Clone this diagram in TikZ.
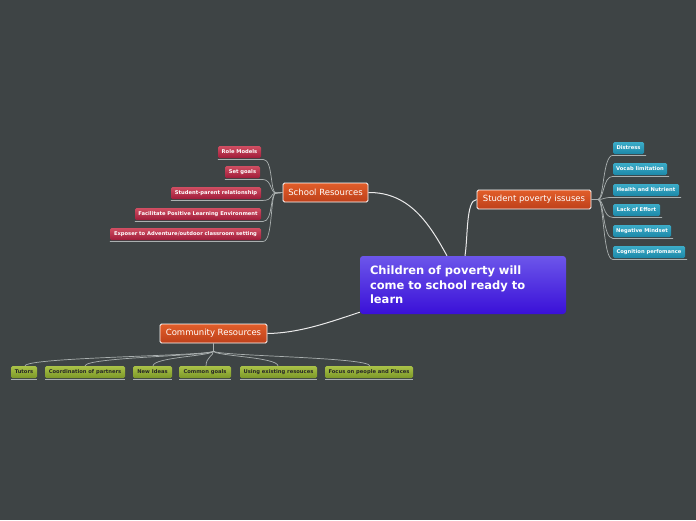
\documentclass[tikz,border=0pt]{standalone}
\usepackage{fontspec}
\setmainfont{DejaVu Sans}
\definecolor{bg}{RGB}{62,68,69}
\definecolor{linec}{RGB}{170,176,176}
\definecolor{mainline}{RGB}{235,235,235}
\definecolor{redtop}{RGB}{208,78,98}
\definecolor{redbot}{RGB}{160,28,58}
\definecolor{bluetop}{RGB}{60,172,200}
\definecolor{bluebot}{RGB}{28,136,168}
\definecolor{greentop}{RGB}{170,194,72}
\definecolor{greenbot}{RGB}{124,152,40}
\definecolor{orangetop}{RGB}{226,94,42}
\definecolor{orangebot}{RGB}{190,64,26}
\definecolor{purptop}{RGB}{108,86,234}
\definecolor{purpbot}{RGB}{58,16,216}
\tikzset{
  subbox/.style={rounded corners=1.5pt, inner sep=0pt, minimum height=12pt,
    text=white, font=\fontsize{5.2}{6}\selectfont\bfseries},
  redbox/.style={subbox, top color=redtop, bottom color=redbot},
  bluebox/.style={subbox, top color=bluetop, bottom color=bluebot},
  greenbox/.style={subbox, top color=greentop, bottom color=greenbot, text=black!85},
  branch/.style={rounded corners=1.5pt, draw=white, line width=0.8pt, inner sep=0pt,
    minimum height=19pt, top color=orangetop, bottom color=orangebot, text=white,
    font=\fontsize{8.5}{10}\selectfont},
  central/.style={rounded corners=3pt, inner xsep=10pt, inner ysep=0pt, minimum height=58pt,
    text width=186pt, align=left, top color=purptop, bottom color=purpbot, text=white,
    font=\fontsize{11.5}{14.5}\selectfont\bfseries},
  conn/.style={draw=linec, line width=0.7pt},
  mconn/.style={draw=mainline, line width=1pt},
}
\begin{document}
\begin{tikzpicture}[x=1pt,y=-1pt]
\fill[bg] (0,0) rectangle (696,520);
\useasboundingbox (0,0) rectangle (696,520);

% main nodes
\node[central] (c) at (463,285) {Children of poverty will\\come to school ready to\\learn};
\node[branch, minimum width=85pt] (school) at (325.5,192.5) {School Resources};
\node[branch, minimum width=114pt] (student) at (534,199.5) {Student poverty issuses};
\node[branch, minimum width=107pt] (comm) at (213.5,333.5) {Community Resources};

% main connectors
\draw[mconn] (school.east) .. controls (410,192) and (430,225) .. ([xshift=-16pt]c.north);
\draw[mconn] ([xshift=2pt]c.north) .. controls (468,236) and (466,200) .. (student.west);
\draw[mconn] (comm.east) .. controls (300,333) and (330,322) .. ([yshift=2pt]c.south west);

% red nodes
\node[redbox, minimum width=43pt] (r1) at (239.5,152) {Role Models};
\node[redbox, minimum width=35pt] (r2) at (242.5,172) {Set goals};
\node[redbox, minimum width=90pt] (r3) at (216,193) {Student-parent relationship};
\node[redbox, minimum width=126pt] (r4) at (198,214) {Facilitate Positive Learning Environment};
\node[redbox, minimum width=151pt] (r5) at (185.5,234) {Exposer to Adventure/outdoor classroom setting};
\coordinate (sh) at (276,193);
\foreach \n in {r1,r2,r3,r4,r5}{
  \draw[conn] ([yshift=-1.2pt]\n.south west) -- ([yshift=-1.2pt,xshift=2pt]\n.south east)
    .. controls +(10,0) and ([xshift=-6pt]sh) .. (sh) -- (school.west);
}

% blue nodes
\node[bluebox, minimum width=31pt] (b1) at (628.5,148) {Distress};
\node[bluebox, minimum width=54pt] (b2) at (640,169) {Vocab limitation};
\node[bluebox, minimum width=66pt] (b3) at (646,190) {Health and Nutrient};
\node[bluebox, minimum width=47pt] (b4) at (636.5,210) {Lack of Effort};
\node[bluebox, minimum width=58pt] (b5) at (642,231) {Negative Mindset};
\node[bluebox, minimum width=72pt] (b6) at (649,252) {Cognition perfomance};
\coordinate (sb) at (598,199.5);
\foreach \n in {b1,b2,b3,b4,b5,b6}{
  \draw[conn] (student.east) -- (sb) .. controls ([xshift=6pt]sb) and ([xshift=-10pt,yshift=-1.2pt]\n.south west)
    .. ([yshift=-1.2pt]\n.south west) -- ([yshift=-1.2pt,xshift=2pt]\n.south east);
}

% green nodes
\node[greenbox, minimum width=26pt] (g1) at (24,372) {Tutors};
\node[greenbox, minimum width=80pt] (g2) at (85,372) {Coordination of partners};
\node[greenbox, minimum width=39pt] (g3) at (152.5,372) {New Ideas};
\node[greenbox, minimum width=52pt] (g4) at (205,372) {Common goals};
\node[greenbox, minimum width=77pt] (g5) at (278.5,372) {Using existing resouces};
\node[greenbox, minimum width=88pt] (g6) at (369,372) {Focus on people and Places};
\coordinate (cg) at (213.5,351);
\foreach \n/\xx in {g1/25,g2/85,g3/153,g4/206,g5/278,g6/370}{
  \draw[conn] (comm.south) -- (cg) .. controls (213.5,356) and (\xx,357) .. (\xx,366);
}
\foreach \n in {g1,g2,g3,g4,g5,g6}{
  \draw[conn] ([yshift=-1.2pt]\n.south west) -- ([yshift=-1.2pt]\n.south east);
}
\end{tikzpicture}
\end{document}
